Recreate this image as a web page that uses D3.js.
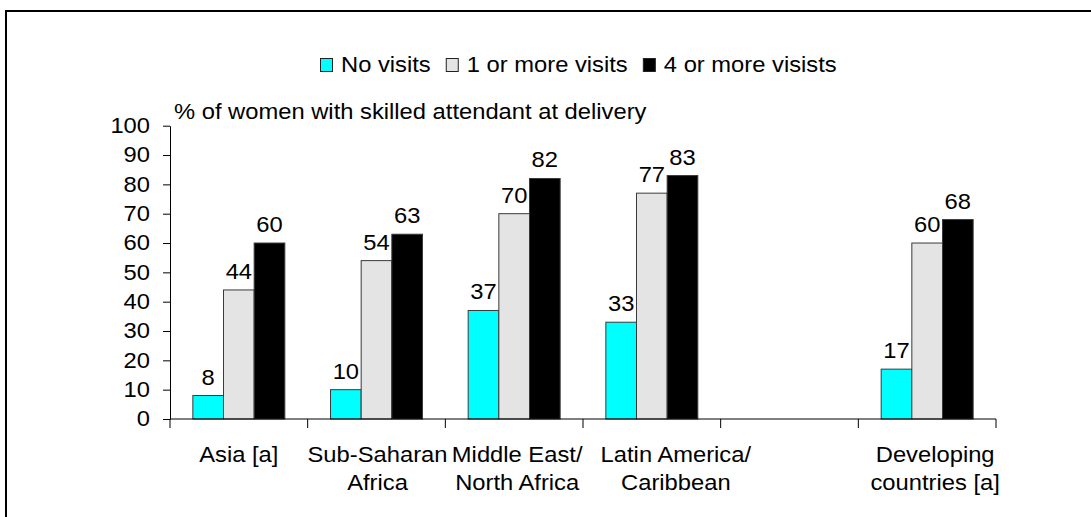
<!DOCTYPE html>
<html>
<head>
<meta charset="utf-8">
<script src="https://cdn.jsdelivr.net/npm/d3@7"></script>
<style>
  html, body { margin: 0; padding: 0; background: #fff; }
  svg { display: block; }
  text { font-family: "Liberation Sans", Arial, sans-serif; fill: #000; }
</style>
</head>
<body>
<svg id="chart" width="1091" height="517"></svg>
<script>
// ---- data ----
const categories = ["Asia [a]", "Sub-Saharan\nAfrica", "Middle East/\nNorth Africa", "Latin America/\nCaribbean", "", "Developing\ncountries [a]"];
const seriesNames = ["No visits", "1 or more visits", "4 or more visists"];
const noVisits   = [8, 10, 37, 33, null, 17];
const oneOrMore  = [44, 54, 70, 77, null, 60];
const fourOrMore = [60, 63, 82, 83, null, 68];
const yTicks = [0, 10, 20, 30, 40, 50, 60, 70, 80, 90, 100];
const yTitle = "% of women with skilled attendant at delivery";

// ---- style / layout ----
const colors = ["#00ffff", "#e4e4e4", "#000000"];
const SX = 1.105;      // horizontal text stretch of the original rendering
const FS = 21.5;
const plot = { left: 170, right: 996, top: 125.7, bottom: 419 };
const labelShift = { "Sub-Saharan\nAfrica": 1, "Middle East/\nNorth Africa": 3, "Latin America/\nCaribbean": 24, "Developing\ncountries [a]": 8 };

const svg = d3.select("#chart");

function stretch(sel) {
  sel.each(function () {
    const t = d3.select(this);
    const x = +t.attr("x") || 0, y = +t.attr("y") || 0;
    t.attr("x", 0).attr("y", 0).attr("transform", `translate(${x},${y}) scale(${SX},1)`);
  });
  return sel;
}

// frame
svg.append("path").attr("d", "M6,517 V11 H1091").attr("fill", "none").attr("stroke", "#000").attr("stroke-width", 2);

const x = d3.scaleBand().domain(categories).range([plot.left, plot.right]).paddingInner(0).paddingOuter(0);
const xs = d3.scaleBand().domain(seriesNames).range([0, x.bandwidth()]).paddingInner(0).paddingOuter(0.745);
const y = d3.scaleLinear().domain([0, 100]).range([plot.bottom, plot.top]);

const series = [noVisits, oneOrMore, fourOrMore];

// bars
series.forEach((vals, si) => {
  const g = svg.append("g");
  const data = categories.map((c, i) => ({ c, v: vals[i] })).filter(d => d.v != null);
  g.selectAll("rect").data(data).join("rect")
    .attr("x", d => x(d.c) + xs(seriesNames[si]))
    .attr("y", d => y(d.v))
    .attr("width", xs.bandwidth())
    .attr("height", d => y(0) - y(d.v))
    .attr("fill", colors[si])
    .attr("stroke", "#3a3a3a")
    .attr("stroke-width", 1);
  const tl = g.selectAll("text").data(data).join("text")
    .attr("x", d => x(d.c) + xs(seriesNames[si]) + xs.bandwidth() / 2)
    .attr("y", d => y(d.v) - 11)
    .attr("text-anchor", "middle")
    .attr("font-size", FS)
    .text(d => d3.format("d")(d.v));
  stretch(tl);
});

// y axis
const yAxis = svg.append("g").attr("transform", `translate(${plot.left},0)`)
  .call(d3.axisLeft(y).tickValues(yTicks).tickSize(7).tickPadding(13).tickSizeOuter(0));
yAxis.select(".domain").attr("stroke", "#000");
yAxis.selectAll(".tick line").attr("stroke", "#000");
yAxis.selectAll(".tick text").attr("font-size", FS).attr("font-family", "Liberation Sans, Arial, sans-serif").attr("fill", "#000");
stretch(yAxis.selectAll(".tick text"));

// x axis line + ticks at band boundaries
const xg = svg.append("g");
xg.append("line").attr("x1", plot.left).attr("x2", plot.right).attr("y1", y(0)).attr("y2", y(0)).attr("stroke", "#000");
const bounds = categories.map(c => x(c)).concat([x.range()[1]]);
xg.selectAll("line.tk").data(bounds).join("line").attr("class", "tk")
  .attr("x1", d => d).attr("x2", d => d).attr("y1", y(0)).attr("y2", y(0) + 9).attr("stroke", "#000");

// category labels
categories.forEach(c => {
  if (!c) return;
  const lines = c.split("\n");
  const cx = x(c) + x.bandwidth() / 2 + (labelShift[c] || 0);
  lines.forEach((ln, li) => {
    const t = svg.append("text")
      .attr("x", cx).attr("y", 461.5 + li * 28.5)
      .attr("text-anchor", "middle").attr("font-size", FS).text(ln);
    stretch(t);
  });
});

// y title
stretch(svg.append("text").attr("x", 174).attr("y", 119).attr("font-size", FS).text(yTitle));

// legend
const lg = svg.append("g");
let lx = 320;
seriesNames.forEach((name, i) => {
  lg.append("rect").attr("x", lx + 0.5).attr("y", 58.5).attr("width", 12).attr("height", 13)
    .attr("fill", colors[i]).attr("stroke", "#222").attr("stroke-width", 1);
  const t = lg.append("text").attr("x", lx + 21).attr("y", 71.5).attr("font-size", FS).text(name);
  const w = t.node().getComputedTextLength() * SX;
  stretch(t);
  lx = lx + 21 + w + 15;
});
</script>
</body>
</html>
